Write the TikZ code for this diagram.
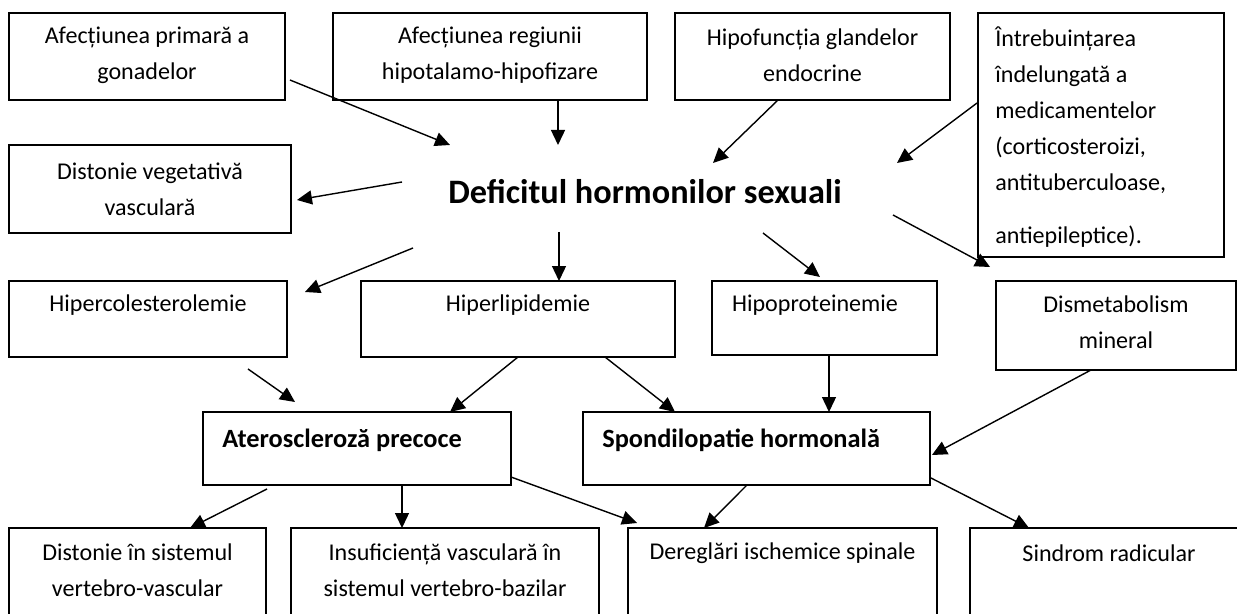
\documentclass[tikz,border=0pt]{standalone}
\usepackage{fontspec}
\setmainfont{Carlito}
\usetikzlibrary{arrows.meta}

\begin{document}
\begin{tikzpicture}[
    x=0.02cm, y=-0.02cm,
    arrow/.style={-{Triangle[length=0.3cm, width=0.28cm]}, line width=0.8pt},
    box/.style={draw, line width=0.8pt, inner sep=0pt, outer sep=0pt},
    txt/.style={font=\fontsize{13.7}{20.5}\selectfont, align=center, inner sep=0pt},
    boldtxt/.style={font=\fontsize{15}{18}\selectfont\bfseries, inner sep=0pt, anchor=west}
]
\useasboundingbox (0,0) rectangle (1237,614);
\clip (0,0) rectangle (1237,614);

% causes
\node[box, minimum width=5.52cm, minimum height=1.74cm] (gonade) at (147,56.5) {};
\node[txt] (gonade-t) at (147,55) {Afecțiunea primară a\\gonadelor};

\node[box, minimum width=6.28cm, minimum height=1.74cm] (hipotal) at (490,56.5) {};
\node[txt] (hipotal-t) at (490,55) {Afecțiunea regiunii\\hipotalamo-hipofizare};

\node[box, minimum width=5.50cm, minimum height=1.74cm] (hipofunc) at (812.5,56.5) {};
\node[txt] (hipofunc-t) at (812.5,55) {Hipofuncția glandelor\\endocrine};

\node[box, minimum width=4.92cm, minimum height=4.88cm] (medic) at (1101,135) {};
\node[txt, align=left, anchor=west] (medic-t) at (995,137)
{Întrebuințarea\\îndelungată a\\medicamentelor\\(corticosteroizi,\\antituberculoase,\\[10pt]antiepileptice).};

% centre
\node[font=\fontsize{19.5}{23}\selectfont\bfseries, inner sep=0pt] (deficit) at (645,192)
{Deficitul hormonilor sexuali};

\node[box, minimum width=5.64cm, minimum height=1.76cm] (distveg) at (150,189) {};
\node[txt] (distveg-t) at (150,189) {Distonie vegetativă\\vasculară};

% consequences
\node[box, minimum width=5.56cm, minimum height=1.52cm] (hipercol) at (148,319) {};
\node[txt] (hipercol-t) at (148,305) {Hipercolesterolemie};

\node[box, minimum width=6.28cm, minimum height=1.52cm] (hiperlip) at (518,319) {};
\node[txt] (hiperlip-t) at (518,305) {Hiperlipidemie};

\node[box, minimum width=4.50cm, minimum height=1.48cm] (hipoprot) at (824.5,318) {};
\node[txt] (hipoprot-t) at (815,305) {Hipoproteinemie};

\node[box, minimum width=4.80cm, minimum height=1.78cm] (dismet) at (1116,325.5) {};
\node[txt] (dismet-t) at (1116,322.5) {Dismetabolism\\mineral};

\node[box, minimum width=6.16cm, minimum height=1.46cm] (ateros) at (357,448.5) {};
\node[boldtxt] (ateros-t) at (222,440) {Ateroscleroză precoce};

\node[box, minimum width=6.94cm, minimum height=1.46cm] (spondil) at (756.5,448.5) {};
\node[boldtxt] (spondil-t) at (602,440) {Spondilopatie hormonală};

% bottom row
\node[box, minimum width=5.14cm, minimum height=2.24cm] (distvert) at (137.5,584) {};
\node[txt] (distvert-t) at (137.5,570) {Distonie în sistemul\\vertebro-vascular};

\node[box, minimum width=6.16cm, minimum height=2.24cm] (insuf) at (445,584) {};
\node[txt] (insuf-t) at (445,570) {Insuficiență vasculară în\\sistemul vertebro-bazilar};

\node[box, minimum width=6.18cm, minimum height=2.24cm] (ischem) at (782.5,584) {};
\node[txt] (ischem-t) at (782.5,553) {Dereglări ischemice spinale};

\node[box, minimum width=5.56cm, minimum height=2.24cm] (radic) at (1109,584) {};
\node[txt] (radic-t) at (1109,553) {Sindrom radicular};

% arrows into the centre
\draw[arrow] ([shift={(5,23.5)}]gonade.east) -- ([shift={(-195,-47)}]deficit.center);
\draw[arrow] ([shift={(68,0)}]hipotal.south) -- ([shift={(-87,-47)}]deficit.center);
\draw[arrow] ([shift={(-34.5,0)}]hipofunc.south) -- ([shift={(68,-29)}]deficit.center);
\draw[arrow] ([shift={(-1,-32)}]medic.west) -- ([shift={(252,-29)}]deficit.center);

% arrows out of the centre
\draw[arrow] ([shift={(-243,-10)}]deficit.center) -- ([shift={(6,11)}]distveg.east);
\draw[arrow] ([shift={(-232,56)}]deficit.center) -- ([shift={(18,11)}]hipercol.north east);
\draw[arrow] ([shift={(-86,40)}]deficit.center) -- ([shift={(41,0)}]hiperlip.north);
\draw[arrow] ([shift={(118,41)}]deficit.center) -- ([shift={(-4.5,-4)}]hipoprot.north);
\draw[arrow] ([shift={(248,23)}]deficit.center) -- ([shift={(-6,-14)}]dismet.north west);

% to the two diseases
\draw[arrow] ([shift={(100,12)}]hipercol.south) -- ([shift={(-62,-10)}]ateros.north);
\draw[arrow] (hiperlip.south) -- ([shift={(93,0)}]ateros.north);
\draw[arrow] ([shift={(87,0)}]hiperlip.south) -- ([shift={(-81.5,0)}]spondil.north);
\draw[arrow] ([shift={(4.5,0)}]hipoprot.south) -- ([shift={(72.5,0)}]spondil.north);
\draw[arrow] ([shift={(-25,0)}]dismet.south) -- ([shift={(2,6.5)}]spondil.east);

% to the bottom row
\draw[arrow] ([shift={(-90,4)}]ateros.south) -- ([shift={(52.5,0)}]distvert.north);
\draw[arrow] ([shift={(45,0)}]ateros.south) -- ([shift={(-43,0)}]insuf.north);
\draw[arrow] ([shift={(0,-8)}]ateros.south east) -- ([shift={(9,-5)}]ischem.north west);
\draw[arrow] ([shift={(-9.5,0)}]spondil.south) -- ([shift={(-78.5,0)}]ischem.north);
\draw[arrow] ([shift={(1,-7)}]spondil.south east) -- ([shift={(-80,0)}]radic.north);

\end{tikzpicture}
\end{document}
